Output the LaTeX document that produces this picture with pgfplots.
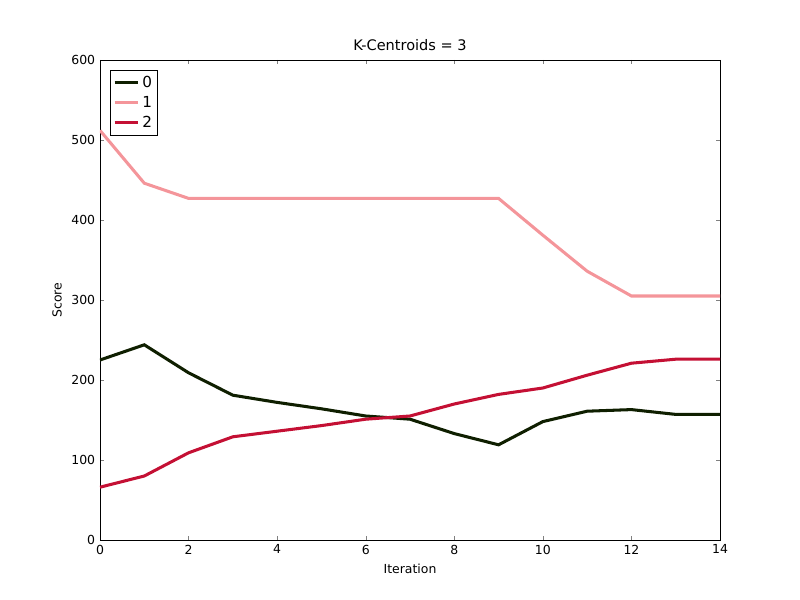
\documentclass[border=0pt]{standalone}
\usepackage{pgfplots}
\pgfplotsset{compat=1.18}
\usepackage{fontspec}
\setmainfont{DejaVu Sans}
\definecolor{c0}{HTML}{0F1F00}
\definecolor{c1}{HTML}{F4959A}
\definecolor{c2}{HTML}{C41034}
\begin{document}
\begin{tikzpicture}
\path[use as bounding box] (-1in,-0.6in) rectangle (7in,5.4in);
\begin{axis}[scale only axis, width=6.2in, height=4.8in,
 xmin=0,xmax=14,ymin=0,ymax=600,
 xtick={0,2,...,14}, ytick={0,100,...,600},
 tick align=inside, tick pos=both,
 major tick length=0.04in,
 /pgf/number format/assume math mode=true,
 tick label style={font=\fontsize{9}{10}\selectfont},
 label style={font=\fontsize{9}{10}\selectfont},
 title style={font=\fontsize{10.5}{12}\selectfont, yshift=-3pt},
 title={K-Centroids = 3}, xlabel={Iteration}, ylabel={Score},
 legend style={at={(0.0161,0.9792)},anchor=north west, font=\fontsize{11}{13}\selectfont, draw=black, row sep=1pt, inner sep=2pt},
 legend cell align=left,
 legend image post style={line width=2.2pt},
 every axis plot/.append style={line width=2.2pt}
]
\addplot[c0] coordinates {(0,225)(1,244)(2,209)(3,181)(4,172)(5,164)(6,155)(7,151)(8,133)(9,119)(10,148)(11,161)(12,163)(13,157)(14,157)};
\addplot[c1] coordinates {(0,512)(1,446)(2,427)(3,427)(4,427)(5,427)(6,427)(7,427)(8,427)(9,427)(10,381)(11,336)(12,305)(13,305)(14,305)};
\addplot[c2] coordinates {(0,66)(1,80)(2,109)(3,129)(4,136)(5,143)(6,151)(7,155)(8,170)(9,182)(10,190)(11,206)(12,221)(13,226)(14,226)};
\legend{0,1,2}
\end{axis}
\end{tikzpicture}
\end{document}
